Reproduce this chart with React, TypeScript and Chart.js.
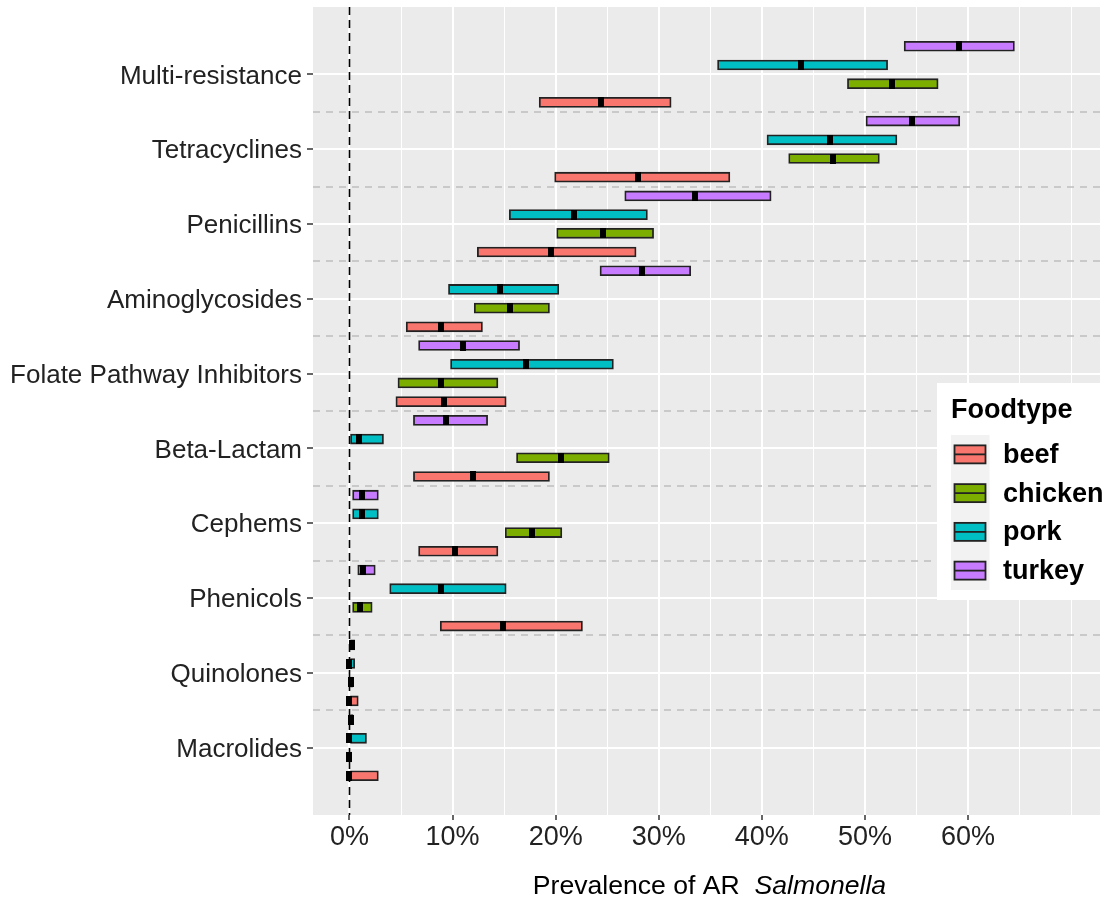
import React, { useEffect, useRef } from "react";
import { Chart, registerables } from "chart.js";

Chart.register(...registerables);

const categories = [
  "Multi-resistance",
  "Tetracyclines",
  "Penicillins",
  "Aminoglycosides",
  "Folate Pathway Inhibitors",
  "Beta-Lactam",
  "Cephems",
  "Phenicols",
  "Quinolones",
  "Macrolides",
];

const foodtypes = ["beef", "chicken", "pork", "turkey"];
const foodColors = ["#F8766D", "#7CAE00", "#00BFC4", "#C77CFF"];
// position_dodge offsets (category units) for beef, chicken, pork, turkey
const dodge = [0.375, 0.125, -0.125, -0.375];

// prevalence (%) — point estimate, lower and upper bound
const beefEst = [24.4, 28.0, 19.5, 8.9, 9.2, 12.0, 10.2, 14.9, 0, 0];
const beefLo = [18.4, 19.9, 12.4, 5.5, 4.5, 6.2, 6.7, 8.8, 0, 0];
const beefHi = [31.2, 36.9, 27.8, 12.9, 15.2, 19.4, 14.4, 22.6, 0.85, 2.8];

const chickenEst = [52.6, 46.9, 24.6, 15.6, 8.9, 20.5, 17.7, 1.05, 0.1, 0];
const chickenLo = [48.3, 42.6, 20.1, 12.1, 4.7, 16.2, 15.1, 0.3, 0, 0];
const chickenHi = [57.1, 51.4, 29.5, 19.4, 14.4, 25.2, 20.6, 2.2, 0.3, 0.2];

const porkEst = [43.8, 46.6, 21.8, 14.6, 17.1, 0.9, 1.2, 8.9, 0, 0];
const porkLo = [35.7, 40.5, 15.5, 9.6, 9.8, 0, 0.3, 3.9, 0, 0];
const porkHi = [52.2, 53.1, 28.9, 20.3, 25.6, 3.3, 2.8, 15.2, 0.5, 1.65];

const turkeyEst = [59.1, 54.6, 33.5, 28.4, 11.0, 9.4, 1.2, 1.3, 0.2, 0.1];
const turkeyLo = [53.8, 50.1, 26.7, 24.3, 6.7, 6.2, 0.3, 0.8, 0, 0];
const turkeyHi = [64.5, 59.2, 40.9, 33.1, 16.5, 13.4, 2.8, 2.5, 0.5, 0.35];

const xMajor = [0, 10, 20, 30, 40, 50, 60];
const xMinor = [5, 15, 25, 35, 45, 55, 65, 70];

const FONT = "'Liberation Sans', Arial, sans-serif";

export default function App() {
  const ref = useRef<HTMLCanvasElement>(null);

  useEffect(() => {
    document.body.style.margin = "0";
    const canvas = ref.current;
    if (!canvas) return;

    const mark = document.createElement("canvas");
    mark.width = 6;
    mark.height = 10;
    const mctx = mark.getContext("2d")!;
    mctx.fillStyle = "#000";
    mctx.fillRect(0, 0, 6, 10);

    const series = [
      { est: beefEst, lo: beefLo, hi: beefHi },
      { est: chickenEst, lo: chickenLo, hi: chickenHi },
      { est: porkEst, lo: porkLo, hi: porkHi },
      { est: turkeyEst, lo: turkeyLo, hi: turkeyHi },
    ];

    const barSets: any[] = series.map((s, k) => ({
      type: "bar",
      label: foodtypes[k],
      data: categories.map((_, i) => ({ x: [s.lo[i], s.hi[i]], y: i + dodge[k] })),
      backgroundColor: foodColors[k],
      borderColor: "#222222",
      borderWidth: 1.8,
      borderSkipped: false,
      barThickness: 10,
      grouped: false,
      order: 2,
    }));

    const estSets: any[] = series.map((s, k) => ({
      type: "scatter",
      label: foodtypes[k] + " estimate",
      data: categories.map((_, i) => ({ x: s.est[i], y: i + dodge[k] })),
      pointStyle: mark,
      pointRadius: 5,
      showLine: false,
      order: 1,
    }));

    const ggPlugin = {
      id: "ggstyle",
      beforeDraw(chart: any) {
        const { ctx, chartArea: a } = chart;
        ctx.save();
        ctx.fillStyle = "#FFFFFF";
        ctx.fillRect(0, 0, chart.width, chart.height);
        ctx.fillStyle = "#EBEBEB";
        ctx.fillRect(a.left, a.top, a.right - a.left, a.bottom - a.top);
        ctx.restore();
      },
      beforeDatasetsDraw(chart: any) {
        const { ctx, chartArea: a } = chart;
        const xs = chart.scales.x;
        const ys = chart.scales.y;
        ctx.save();
        ctx.beginPath();
        ctx.rect(a.left, a.top, a.right - a.left, a.bottom - a.top);
        ctx.clip();
        ctx.strokeStyle = "#BEBEBE";
        ctx.lineWidth = 1.5;
        ctx.setLineDash([7, 6]);
        for (let i = 0; i < categories.length - 1; i++) {
          const py = Math.round(ys.getPixelForValue(i + 0.5));
          ctx.beginPath();
          ctx.moveTo(a.left, py);
          ctx.lineTo(a.right, py);
          ctx.stroke();
        }
        ctx.strokeStyle = "#000000";
        ctx.lineWidth = 1.6;
        ctx.setLineDash([8, 5]);
        const px = xs.getPixelForValue(0);
        ctx.beginPath();
        ctx.moveTo(px, a.top);
        ctx.lineTo(px, a.bottom);
        ctx.stroke();
        ctx.restore();
      },
      afterDraw(chart: any) {
        const { ctx, chartArea: a } = chart;
        ctx.save();
        // axis title
        const part1 = "Prevalence of AR  ";
        const part2 = "Salmonella";
        ctx.font = `26.6px ${FONT}`;
        const w1 = ctx.measureText(part1).width;
        ctx.font = `italic 26.6px ${FONT}`;
        const w2 = ctx.measureText(part2).width;
        const cx = (a.left + a.right) / 2 + 3;
        const startX = cx - (w1 + w2) / 2;
        ctx.fillStyle = "#000000";
        ctx.textBaseline = "middle";
        ctx.textAlign = "left";
        ctx.font = `26.6px ${FONT}`;
        ctx.fillText(part1, startX, 887);
        ctx.font = `italic 26.6px ${FONT}`;
        ctx.fillText(part2, startX + w1, 887);

        // legend
        ctx.fillStyle = "#FFFFFF";
        ctx.fillRect(937, 383, 167, 217);
        ctx.fillStyle = "#000000";
        ctx.font = `bold 27px ${FONT}`;
        ctx.fillText("Foodtype", 951, 411);
        const slot = 38.75;
        const top0 = 435;
        ctx.fillStyle = "#F2F2F2";
        ctx.fillRect(951, top0, 38.5, slot * 4);
        foodtypes.forEach((name, k) => {
          const t = top0 + k * slot;
          const cy = t + slot / 2;
          ctx.fillStyle = foodColors[k];
          ctx.fillRect(954.5, cy - 9, 31, 18);
          ctx.strokeStyle = "#222222";
          ctx.lineWidth = 1.8;
          ctx.setLineDash([]);
          ctx.strokeRect(954.5, cy - 9, 31, 18);
          ctx.beginPath();
          ctx.moveTo(954.5, cy);
          ctx.lineTo(985.5, cy);
          ctx.stroke();
          ctx.fillStyle = "#000000";
          ctx.font = `bold 27px ${FONT}`;
          ctx.fillText(name, 1003, cy + 1);
        });
        ctx.restore();
      },
    };

    const chart = new Chart(canvas, {
      type: "bar",
      data: { datasets: [...barSets, ...estSets] },
      plugins: [ggPlugin],
      options: {
        responsive: false,
        animation: false,
        indexAxis: "y",
        layout: { padding: { top: 7, right: 9, left: 0, bottom: 0 } },
        plugins: {
          legend: { display: false },
          tooltip: { enabled: false },
        },
        scales: {
          x: {
            type: "linear",
            min: -3.54,
            max: 72.8,
            offset: false,
            afterBuildTicks: (scale: any) => {
              scale.ticks = [...xMajor, ...xMinor]
                .sort((p, q) => p - q)
                .map((v) => ({ value: v }));
            },
            afterFit: (scale: any) => {
              scale.height = 90;
              scale.paddingLeft = 0;
              scale.paddingRight = 0;
            },
            border: { display: false },
            grid: {
              offset: false,
              color: "#FFFFFF",
              lineWidth: (c: any) =>
                c.tick && xMajor.includes(c.tick.value) ? 2 : 1,
              tickColor: (c: any) =>
                c.tick && xMajor.includes(c.tick.value) ? "#333333" : "rgba(0,0,0,0)",
              tickLength: 5,
              tickWidth: 1.5,
            },
            ticks: {
              autoSkip: false,
              maxRotation: 0,
              padding: 1,
              color: "#222222",
              font: { family: FONT, size: 27 },
              callback: (v: any) => (xMajor.includes(v) ? `${v}%` : ""),
            },
          },
          y: {
            type: "linear",
            reverse: true,
            min: -0.9,
            max: 9.9,
            offset: false,
            afterBuildTicks: (scale: any) => {
              scale.ticks = categories.map((_, i) => ({ value: i }));
            },
            afterFit: (scale: any) => {
              scale.width = 313;
              scale.paddingTop = 0;
              scale.paddingBottom = 0;
            },
            border: { display: false },
            grid: {
              offset: false,
              color: "#FFFFFF",
              lineWidth: 2,
              tickColor: "#333333",
              tickLength: 6,
              tickWidth: 1.5,
            },
            ticks: {
              autoSkip: false,
              padding: 5,
              labelOffset: 2,
              color: "#222222",
              font: { family: FONT, size: 26 },
              callback: (v: any) => categories[Math.round(v)] ?? "",
            },
          },
        },
      } as any,
    });

    return () => {
      chart.destroy();
    };
  }, []);

  return (
    <div style={{ width: 1109, height: 905 }}>
      <canvas ref={ref} width={1109} height={905} style={{ display: "block" }} />
    </div>
  );
}
